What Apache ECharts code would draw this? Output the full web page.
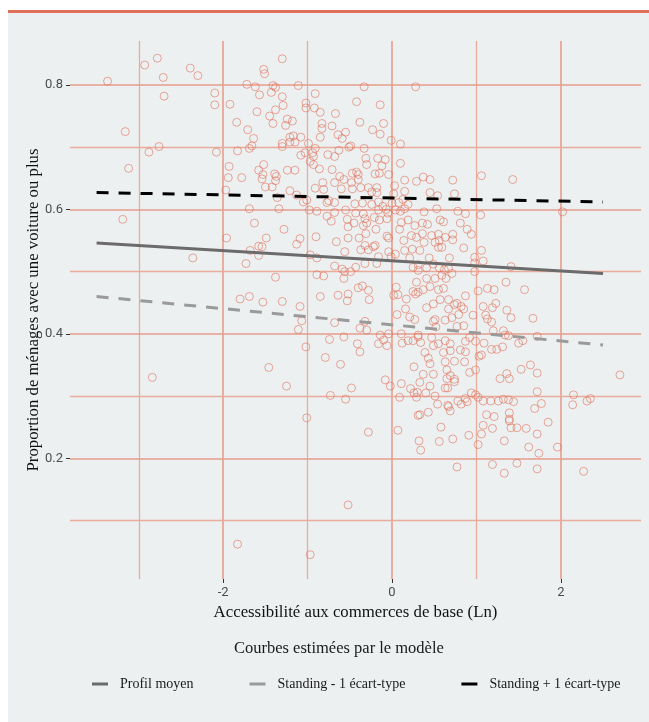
<!DOCTYPE html>
<html><head><meta charset="utf-8">
<script src="https://cdn.jsdelivr.net/npm/echarts@6/dist/echarts.min.js"></script>
<style>html,body{margin:0;padding:0;background:#fff}#c{width:649px;height:722px}</style>
</head><body><div id="c"></div>
<script>
const xTicks = [-2, 0, 2];
const yTicks = [0.2, 0.4, 0.6, 0.8];
const xMinorGrid = [-3, -1, 1];
const yMinorGrid = [0.1, 0.3, 0.5, 0.7];
const seriesNames = ['Profil moyen', 'Standing - 1 écart-type', 'Standing + 1 écart-type'];
const profilMoyen = [[-3.5, 0.546], [2.5, 0.497]];
const standingMoins = [[-3.5, 0.460], [2.5, 0.382]];
const standingPlus = [[-3.5, 0.627], [2.5, 0.612]];
const points = [
[-3.37,0.806],[-2.93,0.832],[-2.78,0.843],[-2.71,0.812],[-2.39,0.827],[-2.30,0.815],[-2.70,0.782],[-2.10,0.787],[-2.10,0.768],[-1.92,0.769],[-3.16,0.725],[-2.76,0.701],[-2.88,0.692],[-2.08,0.692],[-3.12,0.666],[-1.93,0.669],[-1.94,0.651],[-1.97,0.631],[-3.19,0.584],[-1.96,0.554],[-2.36,0.522],[-2.84,0.330],
[-1.30,0.842],[-1.52,0.825],[-1.51,0.818],[-1.72,0.801],[-1.62,0.797],[-1.41,0.799],[-1.38,0.796],[-1.11,0.799],[-1.57,0.784],[-1.43,0.788],[-1.30,0.781],[-0.91,0.786],[-1.02,0.771],[-1.02,0.763],[-0.92,0.763],[-0.85,0.756],[-1.60,0.757],[-1.38,0.760],[-1.29,0.767],[-1.45,0.750],[-1.41,0.738],[-1.24,0.745],[-1.18,0.742],[-1.26,0.735],[-1.84,0.740],[-1.71,0.728],[-0.83,0.738],[-0.83,0.730],[-0.85,0.716],[-1.64,0.714],[-1.21,0.716],[-1.17,0.718],[-1.21,0.708],[-1.15,0.708],[-1.08,0.716],[-1.30,0.706],[-1.30,0.701],[-1.69,0.698],[-1.66,0.702],[-1.83,0.694],[-0.99,0.706],[-0.91,0.698],[-1.08,0.687],[-1.03,0.691],[-0.94,0.691],[-0.93,0.685],[-0.97,0.677],[-0.93,0.672],[-0.86,0.665],[-0.76,0.688],[-1.52,0.672],[-1.58,0.663],[-1.53,0.656],[-1.54,0.649],[-1.39,0.657],[-1.37,0.653],[-1.38,0.646],[-1.24,0.663],[-1.15,0.663],[-1.78,0.651],[-1.50,0.636],[-1.42,0.636],[-0.82,0.643],[-0.91,0.634],[-0.81,0.632],[-1.21,0.630],[-1.13,0.623],[-1.36,0.619],[-1.05,0.612],[-1.01,0.615],[-0.77,0.611],[-0.77,0.589],[-1.69,0.601],[-1.34,0.601],[-0.98,0.599],[-0.89,0.597],[-1.63,0.578],[-1.28,0.568],[-1.49,0.554],[-1.09,0.553],[-1.13,0.544],[-0.90,0.556],[-1.58,0.541],[-1.54,0.540],[-1.68,0.534],[-1.58,0.526],[-0.97,0.527],[-0.89,0.522],[-1.73,0.513],[-0.89,0.495],[-0.81,0.493],[-0.85,0.460],[-1.38,0.491],[-1.80,0.456],[-1.69,0.460],[-1.53,0.451],[-1.30,0.452],[-1.09,0.444],[-1.07,0.421],[-1.11,0.407],[-1.02,0.379],[-0.79,0.362],[-0.74,0.391],[-1.46,0.346],[-1.25,0.316],[-0.73,0.301],[-1.01,0.265],[-1.83,0.062],[-0.97,0.045],
[-0.33,0.797],[0.28,0.797],[-0.42,0.773],[-0.14,0.768],[-0.67,0.754],[-0.38,0.740],[-0.10,0.738],[-0.71,0.734],[-0.23,0.728],[-0.14,0.721],[-0.64,0.720],[-0.55,0.724],[-0.59,0.714],[-0.51,0.700],[-0.49,0.702],[-0.01,0.711],[0.10,0.705],[-0.33,0.698],[-0.68,0.685],[-0.63,0.695],[-0.31,0.682],[-0.30,0.672],[-0.17,0.682],[-0.08,0.680],[-0.12,0.670],[0.10,0.674],[-0.71,0.664],[-0.47,0.658],[-0.42,0.660],[-0.40,0.656],[-0.40,0.648],[-0.20,0.657],[-0.15,0.658],[-0.04,0.656],[-0.62,0.653],[-0.57,0.648],[-0.68,0.643],[-0.60,0.633],[-0.48,0.643],[-0.47,0.633],[-0.37,0.635],[-0.28,0.635],[-0.24,0.628],[-0.18,0.635],[-0.18,0.627],[0.03,0.638],[0.15,0.647],[0.29,0.645],[0.02,0.625],[0.15,0.629],[-0.75,0.614],[-0.68,0.611],[-0.44,0.609],[-0.35,0.610],[-0.24,0.608],[-0.16,0.612],[-0.11,0.605],[0.00,0.610],[0.08,0.611],[0.13,0.616],[0.19,0.608],[-0.68,0.595],[-0.55,0.599],[-0.43,0.594],[-0.34,0.593],[-0.16,0.599],[-0.07,0.600],[-0.05,0.594],[0.04,0.599],[0.10,0.597],[0.15,0.601],[-0.72,0.581],[-0.53,0.584],[-0.52,0.572],[-0.45,0.578],[-0.32,0.585],[-0.30,0.578],[-0.34,0.574],[-0.21,0.587],[-0.19,0.568],[-0.15,0.583],[-0.06,0.585],[0.11,0.579],[0.19,0.583],[0.27,0.574],[-0.52,0.554],[-0.39,0.554],[-0.31,0.561],[-0.06,0.557],[-0.04,0.554],[0.09,0.568],[0.14,0.550],[0.23,0.558],[0.29,0.555],[-0.66,0.548],[-0.32,0.542],[-0.28,0.535],[-0.22,0.540],[-0.20,0.542],[-0.37,0.535],[-0.56,0.532],[-0.16,0.524],[-0.04,0.532],[-0.01,0.524],[0.04,0.528],[0.15,0.534],[0.21,0.522],[0.24,0.536],[-0.32,0.513],[-0.18,0.513],[-0.68,0.509],[-0.59,0.504],[-0.56,0.500],[-0.49,0.500],[-0.43,0.507],[-0.57,0.489],[0.25,0.507],[0.31,0.502],[0.29,0.483],[-0.40,0.474],[-0.35,0.477],[-0.28,0.470],[-0.27,0.455],[-0.52,0.464],[-0.53,0.453],[-0.64,0.462],[0.05,0.475],[0.02,0.462],[0.07,0.463],[0.17,0.456],[0.25,0.468],[0.28,0.464],[0.16,0.440],[0.06,0.431],[0.21,0.427],[0.27,0.423],[-0.68,0.418],[-0.32,0.420],[-0.38,0.409],[-0.30,0.406],[-0.04,0.400],[0.11,0.400],[-0.14,0.398],[-0.10,0.390],[-0.16,0.384],[-0.06,0.381],[0.12,0.385],[0.19,0.389],[0.25,0.389],[0.31,0.395],[-0.57,0.395],[-0.41,0.384],[-0.38,0.371],[-0.61,0.351],[0.26,0.347],[-0.08,0.326],[-0.02,0.316],[0.11,0.320],[0.22,0.312],[0.26,0.305],[0.29,0.298],[-0.48,0.313],[-0.55,0.295],[0.09,0.298],[-0.28,0.242],[0.07,0.245],[0.32,0.228],[0.31,0.269],[-0.52,0.125],
[1.06,0.654],[0.37,0.652],[0.45,0.648],[0.72,0.647],[0.45,0.627],[0.54,0.622],[0.74,0.625],[0.53,0.601],[0.38,0.596],[0.78,0.597],[0.87,0.593],[1.05,0.591],[0.36,0.578],[0.42,0.576],[0.57,0.583],[0.61,0.580],[0.81,0.578],[0.89,0.568],[0.94,0.560],[0.36,0.561],[0.47,0.558],[0.55,0.560],[0.63,0.555],[0.72,0.560],[0.72,0.551],[0.38,0.547],[0.51,0.547],[0.56,0.550],[0.59,0.539],[0.85,0.538],[1.06,0.534],[0.33,0.534],[0.44,0.522],[0.55,0.539],[0.68,0.522],[0.98,0.523],[1.08,0.517],[0.98,0.514],[0.31,0.511],[0.41,0.506],[0.49,0.512],[0.56,0.506],[0.62,0.503],[0.67,0.505],[0.71,0.497],[0.59,0.494],[0.51,0.489],[0.64,0.489],[0.41,0.489],[0.98,0.500],[1.35,0.483],[1.02,0.469],[1.13,0.473],[1.21,0.471],[0.37,0.471],[0.45,0.476],[0.55,0.471],[0.61,0.473],[0.31,0.467],[0.41,0.442],[0.49,0.448],[0.57,0.455],[0.67,0.455],[0.67,0.440],[0.74,0.447],[0.77,0.449],[0.82,0.444],[0.85,0.440],[0.87,0.461],[0.79,0.431],[0.71,0.426],[0.63,0.422],[0.51,0.423],[0.49,0.420],[0.52,0.411],[0.77,0.412],[0.85,0.413],[0.96,0.430],[1.08,0.444],[1.11,0.430],[1.13,0.424],[1.19,0.442],[1.23,0.449],[1.18,0.419],[1.20,0.405],[1.32,0.405],[1.34,0.398],[0.31,0.398],[0.34,0.386],[0.47,0.394],[0.49,0.381],[0.55,0.384],[0.63,0.389],[0.69,0.384],[0.87,0.388],[0.92,0.394],[0.99,0.388],[1.09,0.385],[1.18,0.375],[1.24,0.375],[1.31,0.379],[0.39,0.370],[0.61,0.370],[0.69,0.373],[0.81,0.374],[0.87,0.371],[1.03,0.364],[1.06,0.366],[0.43,0.361],[0.45,0.352],[0.63,0.355],[0.74,0.356],[0.86,0.355],[0.37,0.335],[0.49,0.335],[0.65,0.342],[0.69,0.333],[0.74,0.327],[0.74,0.323],[0.65,0.328],[0.92,0.338],[0.99,0.342],[1.28,0.328],[1.36,0.336],[0.33,0.322],[0.45,0.316],[0.63,0.313],[0.66,0.313],[0.30,0.306],[0.40,0.305],[0.51,0.300],[0.94,0.305],[0.99,0.302],[1.02,0.298],[1.08,0.292],[1.17,0.292],[1.26,0.292],[1.32,0.295],[1.38,0.294],[0.87,0.296],[0.78,0.292],[0.54,0.287],[0.66,0.285],[0.67,0.283],[0.69,0.276],[0.82,0.287],[0.89,0.291],[0.43,0.274],[0.33,0.270],[1.12,0.270],[1.21,0.267],[1.39,0.263],[1.08,0.253],[1.19,0.248],[0.58,0.250],[0.91,0.237],[1.06,0.239],[1.02,0.222],[0.72,0.231],[0.56,0.227],[1.33,0.228],[0.34,0.213],[0.77,0.186],[1.19,0.190],[1.33,0.176],
[1.43,0.648],[2.02,0.596],[1.41,0.508],[1.57,0.471],[1.36,0.438],[1.41,0.426],[1.67,0.425],[1.38,0.397],[1.72,0.396],[1.55,0.389],[1.50,0.385],[1.64,0.350],[1.53,0.343],[1.72,0.337],[1.39,0.328],[2.70,0.334],[1.72,0.307],[2.15,0.302],[2.14,0.286],[2.31,0.292],[2.35,0.296],[1.44,0.291],[1.77,0.288],[1.69,0.280],[1.39,0.273],[1.39,0.260],[1.41,0.249],[1.48,0.249],[1.59,0.248],[1.85,0.258],[1.72,0.239],[1.62,0.218],[1.74,0.208],[1.96,0.218],[1.48,0.192],[1.72,0.183],[2.27,0.179]
];

const serif = 'Liberation Serif';
const sans = 'Roboto';
const gridMajor = {type: 'solid', color: '#e69d8b', width: 1.6};
const gridMinor = {type: 'solid', color: '#e9ab9c', width: 1.3};
const gridLines = []
  .concat(xTicks.map(v => ({xAxis: v, lineStyle: gridMajor})))
  .concat(xMinorGrid.map(v => ({xAxis: v, lineStyle: gridMinor})))
  .concat(yTicks.map(v => ({yAxis: v, lineStyle: gridMajor})))
  .concat(yMinorGrid.map(v => ({yAxis: v, lineStyle: gridMinor})));

const chart = echarts.init(document.getElementById('c'), null, {renderer: 'canvas'});
chart.setOption({
  backgroundColor: '#ffffff',
  animation: false,
  graphic: [
    {type: 'rect', z: -10, silent: true, shape: {x: 8, y: 13, width: 641, height: 709}, style: {fill: '#edf0f1'}},
    {type: 'rect', z: -9, silent: true, shape: {x: 8, y: 10, width: 641, height: 3}, style: {fill: '#e0705a'}},
    {type: 'text', left: 234, top: 640, style: {text: 'Courbes estimées par le modèle', font: '16.5px "Liberation Serif"', fill: '#1a1a1a'}}
  ],
  grid: {left: 70, right: 8, top: 41, bottom: 143, containLabel: false},
  xAxis: {
    type: 'value', min: -3.815, max: 2.95,
    name: 'Accessibilité aux commerces de base (Ln)', nameLocation: 'middle', nameGap: 25,
    nameTextStyle: {fontFamily: serif, fontSize: 16.8, color: '#111'},
    axisLine: {show: false, onZero: false},
    axisTick: {show: true, customValues: xTicks, length: 4, lineStyle: {color: '#333', width: 1}},
    axisLabel: {customValues: xTicks, color: '#4d4d4d', fontFamily: sans, fontSize: 13, margin: 7},
    splitLine: {show: false}
  },
  yAxis: {
    type: 'value', min: 0.006, max: 0.8706,
    name: 'Proportion de ménages avec une voiture ou plus', nameLocation: 'middle', nameGap: 28, nameMoveOverlap: false,
    nameTextStyle: {fontFamily: serif, fontSize: 16.8, color: '#111'},
    axisLine: {show: false, onZero: false},
    axisTick: {show: true, customValues: yTicks, length: 4, lineStyle: {color: '#333', width: 1}},
    axisLabel: {customValues: yTicks, color: '#4d4d4d', fontFamily: sans, fontSize: 13, margin: 7, formatter: v => v.toFixed(1)},
    splitLine: {show: false}
  },
  legend: {
    data: [
      {name: seriesNames[0], icon: 'rect', itemStyle: {color: '#6b6b6b'}},
      {name: seriesNames[1], icon: 'rect', itemStyle: {color: '#9a9a9a'}},
      {name: seriesNames[2], icon: 'rect', itemStyle: {color: '#000'}}
    ],
    left: 87, top: 672, itemWidth: 16, itemHeight: 3, itemGap: 56,
    textStyle: {fontFamily: serif, fontSize: 14, color: '#1a1a1a', padding: [0, 0, 0, 7]},
    selectedMode: false
  },
  series: [
    {type: 'scatter', name: 'obs', data: points, symbol: 'circle', symbolSize: 8, z: 2, silent: true,
      itemStyle: {color: 'rgba(0,0,0,0)', borderColor: 'rgba(224,112,88,0.75)', borderWidth: 1},
      markLine: {silent: true, symbol: ['none', 'none'], label: {show: false}, animation: false, z: 1,
        emphasis: {disabled: true},
        lineStyle: {type: 'solid', color: '#e69d8b', width: 1.5}, data: gridLines}},
    {type: 'line', name: seriesNames[0], data: profilMoyen, symbol: 'none', z: 3,
      lineStyle: {color: '#6b6b6b', width: 3}},
    {type: 'line', name: seriesNames[1], data: standingMoins, symbol: 'none', z: 3,
      lineStyle: {color: '#9a9a9a', width: 3, type: [12, 10]}},
    {type: 'line', name: seriesNames[2], data: standingPlus, symbol: 'none', z: 3,
      lineStyle: {color: '#000', width: 3, type: [12, 10]}}
  ]
});
</script></body></html>
